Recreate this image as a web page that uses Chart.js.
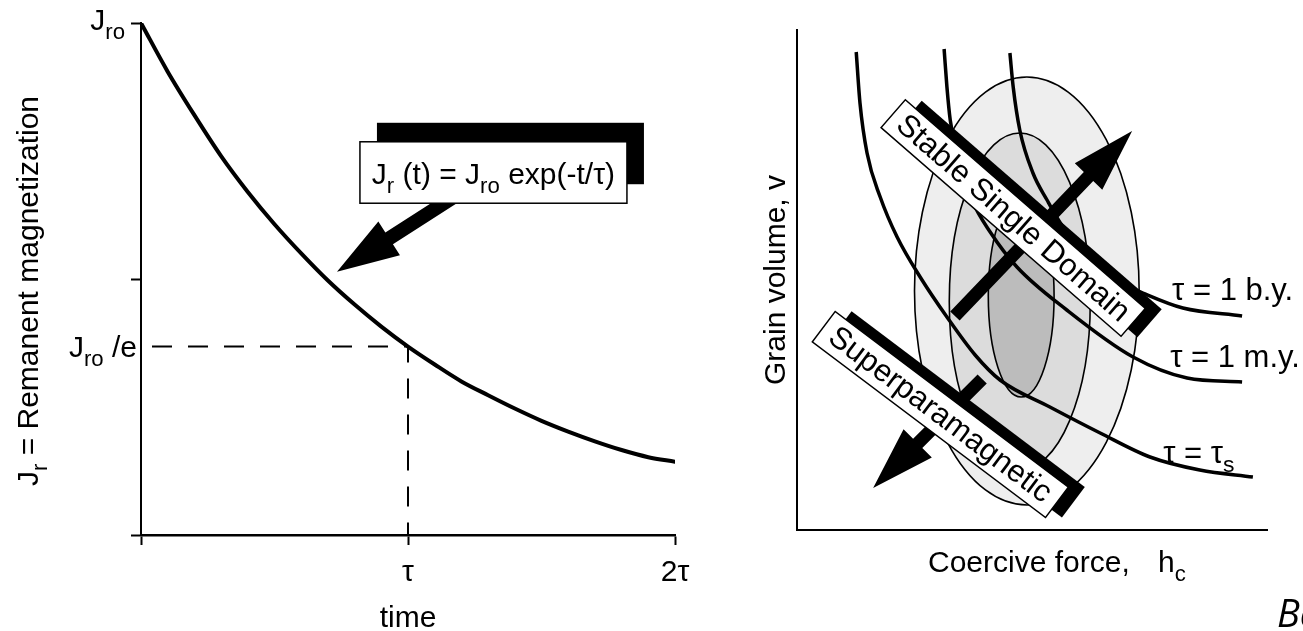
<!DOCTYPE html>
<html>
<head>
<meta charset="utf-8">
<script src="https://cdn.jsdelivr.net/npm/chart.js@4.4.1/dist/chart.umd.min.js"></script>
<style>
  html, body { margin: 0; padding: 0; background: #fff; overflow: hidden; }
  #wrap { position: relative; width: 1303px; height: 631px; }
  #decay { position: absolute; left: 0; top: 0; }
  #stability { position: absolute; left: 720px; top: 0; }
</style>
</head>
<body>
<div id="wrap">
  <canvas id="decay" width="720" height="631"></canvas>
  <canvas id="stability" width="583" height="631"></canvas>
</div>
<script>
// ---- Left panel: decay of remanence with time (time in units of tau, J_r relative to J_ro)
const decayTime       = [0, 0.1, 0.2, 0.3, 0.4, 0.5, 0.6, 0.7, 0.8, 0.9, 1.0, 1.1, 1.2, 1.3, 1.4, 1.5, 1.6, 1.7, 1.8, 1.9, 2.0];
const decayRemanence  = [1.00, 0.905, 0.82, 0.74, 0.67, 0.607, 0.55, 0.497, 0.45, 0.407, 0.368, 0.333, 0.30, 0.273, 0.247, 0.223, 0.202, 0.183, 0.166, 0.152, 0.143];
const remanenceAtTau  = 0.368;          // J_ro / e, reached at t = tau
const timeTicks       = [0, 1, 2];
const timeTickLabels  = ['', 'τ', '2τ'];
const remanenceTicks  = [0, 0.5, 1];

// ---- Right panel: relaxation-time contours in (coercive force, grain volume) space
const contourLabels = ['τ = 1 b.y.', 'τ = 1 m.y.', 'τ = τs'];
const byHc  = [4.53, 4.60, 4.74, 5.02, 5.32, 5.66, 6.23, 6.77, 7.36, 8.21, 9.47];
const byV   = [9.54, 8.86, 8.00, 7.14, 6.60, 6.06, 5.44, 5.00, 4.74, 4.44, 4.28];
const myHc  = [3.13, 3.19, 3.26, 3.43, 3.72, 4.11, 4.68, 5.74, 7.15, 8.30, 9.47];
const myV   = [9.62, 8.86, 8.20, 7.40, 6.60, 5.96, 5.26, 4.40, 3.46, 3.04, 2.96];
const tsHc  = [1.26, 1.34, 1.49, 1.77, 2.13, 2.62, 3.19, 3.79, 4.32, 5.38, 6.45, 7.51, 8.57, 9.70];
const tsV   = [9.56, 8.54, 7.54, 6.66, 5.86, 5.06, 4.26, 3.50, 3.00, 2.46, 1.94, 1.46, 1.20, 1.06];

// grain population zones (nested ellipses), outer to inner
const zoneHc     = [4.89, 4.74, 4.77];
const zoneV      = [4.78, 4.57, 4.68];
const zoneHalfHc = [2.39, 1.50, 0.70];
const zoneHalfV  = [4.28, 3.37, 2.02];

// ---- styling / layout of the annotations
const FONT = '"Liberation Sans", Arial, Helvetica, sans-serif';
const SUB = 0.74;
const TXT = 30;
const TAG_TXT = 31;
const zoneFill = ['#eeeeee', '#dcdcdc', '#bcbcbc'];

const LEFT_NOTE = {
  box: [0.820, 1.820, 0.768, 0.648],      // t from, t to, value top, value bottom
  shadow: [17, -19],
  arrowFrom: [1.176, 0.662],
  arrowTo: [0.734, 0.514]
};
const RIGHT_NOTE = {
  upArrow:   { from: [3.36, 4.28], to: [7.13, 7.98] },
  downArrow: { from: [3.94, 3.02], to: [1.62, 0.84] },
  stableTag: { at: [4.60, 6.24], angle: 41, len: 318, thick: 37, text: 'Stable Single Domain' },
  superTag:  { at: [3.05, 2.31], angle: 37, len: 292, thick: 38, text: 'Superparamagnetic' },
  labelAt:   [[7.98, 4.60], [7.94, 3.26], [7.79, 1.34]]
};

function font(size, style) { return (style ? style + ' ' : '') + size + 'px ' + FONT; }

function richWidth(ctx, parts, size) {
  let w = 0;
  for (const p of parts) { ctx.font = font(p.sub ? size * SUB : size); w += ctx.measureText(p.t).width; }
  return w;
}
function drawRich(ctx, parts, x, y, size, align) {
  const w = richWidth(ctx, parts, size);
  let cx = align === 'center' ? x - w / 2 : (align === 'right' ? x - w : x);
  ctx.textAlign = 'left';
  ctx.textBaseline = 'alphabetic';
  for (const p of parts) {
    ctx.font = font(p.sub ? size * SUB : size);
    ctx.fillText(p.t, cx, y + (p.sub ? size * 0.3 : 0));
    cx += ctx.measureText(p.t).width;
  }
}
function drawArrow(ctx, x0, y0, x1, y1, shaft, headLen, headW) {
  const dx = x1 - x0, dy = y1 - y0, L = Math.hypot(dx, dy);
  const ux = dx / L, uy = dy / L, nx = -uy, ny = ux;
  const bx = x1 - ux * headLen, by = y1 - uy * headLen;
  ctx.beginPath();
  ctx.moveTo(x0 + nx * shaft / 2, y0 + ny * shaft / 2);
  ctx.lineTo(bx + nx * shaft / 2, by + ny * shaft / 2);
  ctx.lineTo(bx + nx * headW / 2, by + ny * headW / 2);
  ctx.lineTo(x1, y1);
  ctx.lineTo(bx - nx * headW / 2, by - ny * headW / 2);
  ctx.lineTo(bx - nx * shaft / 2, by - ny * shaft / 2);
  ctx.lineTo(x0 - nx * shaft / 2, y0 - ny * shaft / 2);
  ctx.closePath();
  ctx.fillStyle = '#000';
  ctx.fill();
}
function drawTag(ctx, cx, cy, tag) {
  ctx.save();
  ctx.translate(cx, cy);
  ctx.rotate(tag.angle * Math.PI / 180);
  const w = tag.len, h = tag.thick;
  ctx.fillStyle = '#000';
  ctx.fillRect(-w / 2 + 13, -h / 2 - 10, w, h);
  ctx.fillStyle = '#fff';
  ctx.fillRect(-w / 2, -h / 2, w, h);
  ctx.strokeStyle = '#000';
  ctx.lineWidth = 1.5;
  ctx.strokeRect(-w / 2, -h / 2, w, h);
  ctx.fillStyle = '#000';
  ctx.font = font(TAG_TXT);
  ctx.textAlign = 'center';
  ctx.textBaseline = 'middle';
  ctx.fillText(tag.text, 0, 1);
  ctx.restore();
}

const blackTicks = { display: true, drawOnChartArea: false, drawTicks: true, tickLength: 10, tickWidth: 2, tickColor: '#000' };

// ---------------- left chart ----------------
const decayDecor = {
  id: 'decayDecor',
  afterDatasetsDraw(chart) {
    const { ctx, scales: { x, y } } = chart;
    const N = LEFT_NOTE;
    ctx.save();
    drawArrow(ctx, x.getPixelForValue(N.arrowFrom[0]), y.getPixelForValue(N.arrowFrom[1]),
              x.getPixelForValue(N.arrowTo[0]), y.getPixelForValue(N.arrowTo[1]), 14, 62, 40);
    const bx0 = x.getPixelForValue(N.box[0]), bx1 = x.getPixelForValue(N.box[1]);
    const by0 = y.getPixelForValue(N.box[2]), by1 = y.getPixelForValue(N.box[3]);
    ctx.fillStyle = '#000';
    ctx.fillRect(bx0 + N.shadow[0], by0 + N.shadow[1], bx1 - bx0, by1 - by0);
    ctx.fillStyle = '#fff';
    ctx.fillRect(bx0, by0, bx1 - bx0, by1 - by0);
    ctx.strokeStyle = '#000';
    ctx.lineWidth = 1.5;
    ctx.strokeRect(bx0, by0, bx1 - bx0, by1 - by0);
    ctx.fillStyle = '#000';
    drawRich(ctx, [{ t: 'J' }, { t: 'r', sub: 1 }, { t: ' (t) = J' }, { t: 'ro', sub: 1 }, { t: ' exp(-t/τ)' }],
             (bx0 + bx1) / 2, (by0 + by1) / 2 + 11, TXT, 'center');

    // value labels
    drawRich(ctx, [{ t: 'J' }, { t: 'ro', sub: 1 }], x.left - 16, y.getPixelForValue(1) + 7, TXT, 'right');
    drawRich(ctx, [{ t: 'J' }, { t: 'ro', sub: 1 }, { t: ' /e' }], x.left - 4, y.getPixelForValue(remanenceAtTau) + 10, TXT, 'right');
    // time tick labels
    ctx.font = font(TXT);
    ctx.textAlign = 'center';
    ctx.textBaseline = 'alphabetic';
    timeTicks.forEach((t, i) => { if (timeTickLabels[i]) ctx.fillText(timeTickLabels[i], x.getPixelForValue(t), y.bottom + 46); });
    ctx.fillText('time', x.getPixelForValue(1), y.bottom + 92);
    // vertical axis title
    ctx.save();
    ctx.translate(38, (y.top + y.bottom) / 2 + 12);
    ctx.rotate(-Math.PI / 2);
    drawRich(ctx, [{ t: 'J' }, { t: 'r', sub: 1 }, { t: ' = Remanent magnetization' }], 0, 0, TXT, 'center');
    ctx.restore();
    ctx.restore();
  }
};

new Chart(document.getElementById('decay'), {
  type: 'line',
  data: {
    datasets: [
      { data: decayTime.map((t, i) => ({ x: t, y: decayRemanence[i] })),
        borderColor: '#000', borderWidth: 4, pointRadius: 0, cubicInterpolationMode: 'monotone', borderCapStyle: 'round' },
      { data: [{ x: 0, y: remanenceAtTau }, { x: 1, y: remanenceAtTau }, { x: 1, y: 0 }],
        borderColor: '#000', borderWidth: 2, borderDash: [20, 16], borderDashOffset: 25, pointRadius: 0, tension: 0 }
    ]
  },
  options: {
    responsive: false, animation: false, events: [],
    layout: { padding: { left: 131, top: 23, right: 45, bottom: 86 } },
    plugins: { legend: { display: false }, tooltip: { enabled: false } },
    scales: {
      x: { type: 'linear', min: 0, max: 2,
           afterBuildTicks: s => { s.ticks = timeTicks.map(v => ({ value: v })); },
           ticks: { display: false }, grid: blackTicks,
           border: { display: true, color: '#000', width: 2.5 } },
      y: { type: 'linear', min: 0, max: 1,
           afterBuildTicks: s => { s.ticks = remanenceTicks.map(v => ({ value: v })); },
           ticks: { display: false }, grid: blackTicks,
           border: { display: true, color: '#000', width: 2 } }
    }
  },
  plugins: [decayDecor]
});

// ---------------- right chart ----------------
const stabilityDecor = {
  id: 'stabilityDecor',
  beforeDatasetsDraw(chart) {
    const { ctx, scales: { x, y } } = chart;
    ctx.save();
    zoneHc.forEach((hc, i) => {
      const cx = x.getPixelForValue(hc), cy = y.getPixelForValue(zoneV[i]);
      const rx = Math.abs(x.getPixelForValue(hc + zoneHalfHc[i]) - cx);
      const ry = Math.abs(y.getPixelForValue(zoneV[i] + zoneHalfV[i]) - cy);
      ctx.beginPath();
      ctx.ellipse(cx, cy, rx, ry, 0, 0, Math.PI * 2);
      ctx.fillStyle = zoneFill[i];
      ctx.fill();
      ctx.lineWidth = 1.6;
      ctx.strokeStyle = '#000';
      ctx.stroke();
    });
    ctx.restore();
  },
  afterDatasetsDraw(chart) {
    const { ctx, scales: { x, y } } = chart;
    const N = RIGHT_NOTE;
    const px = v => x.getPixelForValue(v), py = v => y.getPixelForValue(v);
    ctx.save();
    drawArrow(ctx, px(N.upArrow.from[0]), py(N.upArrow.from[1]), px(N.upArrow.to[0]), py(N.upArrow.to[1]), 13, 63, 38);
    drawArrow(ctx, px(N.downArrow.from[0]), py(N.downArrow.from[1]), px(N.downArrow.to[0]), py(N.downArrow.to[1]), 13, 63, 40);
    drawTag(ctx, px(N.stableTag.at[0]), py(N.stableTag.at[1]), N.stableTag);
    drawTag(ctx, px(N.superTag.at[0]), py(N.superTag.at[1]), N.superTag);

    ctx.fillStyle = '#000';
    drawRich(ctx, [{ t: contourLabels[0] }], px(N.labelAt[0][0]), py(N.labelAt[0][1]), TAG_TXT, 'left');
    drawRich(ctx, [{ t: contourLabels[1] }], px(N.labelAt[1][0]), py(N.labelAt[1][1]), TAG_TXT, 'left');
    drawRich(ctx, [{ t: 'τ = τ' }, { t: 's', sub: 1 }], px(N.labelAt[2][0]), py(N.labelAt[2][1]), TAG_TXT, 'left');

    // axis titles
    drawRich(ctx, [{ t: 'Coercive force,' }], x.left + 131, y.bottom + 42, TXT, 'left');
    drawRich(ctx, [{ t: 'h' }, { t: 'c', sub: 1 }], x.left + 361, y.bottom + 42, TXT, 'left');
    ctx.save();
    ctx.translate(x.left - 12, (y.top + y.bottom) / 2);
    ctx.rotate(-Math.PI / 2);
    drawRich(ctx, [{ t: 'Grain volume, v' }], 0, 0, TXT, 'center');
    ctx.restore();

    ctx.font = 'italic 38px "Open Sans", "DejaVu Sans", sans-serif';
    ctx.textAlign = 'left';
    ctx.textBaseline = 'alphabetic';
    ctx.fillText('Ba', 557, 627);
    ctx.restore();
  }
};

const contour = (hc, v) => ({
  data: hc.map((h, i) => ({ x: h, y: v[i] })),
  borderColor: '#000', borderWidth: 3.5, pointRadius: 0, cubicInterpolationMode: 'monotone'
});

new Chart(document.getElementById('stability'), {
  type: 'line',
  data: { datasets: [contour(byHc, byV), contour(myHc, myV), contour(tsHc, tsV)] },
  options: {
    responsive: false, animation: false, events: [],
    layout: { padding: { left: 77, top: 30, right: 36, bottom: 101 } },
    plugins: { legend: { display: false }, tooltip: { enabled: false } },
    scales: {
      x: { type: 'linear', min: 0, max: 10, ticks: { display: false },
           grid: { display: false, drawTicks: false, tickLength: 0 },
           border: { display: true, color: '#000', width: 2 } },
      y: { type: 'linear', min: 0, max: 10, ticks: { display: false },
           grid: { display: false, drawTicks: false, tickLength: 0 },
           border: { display: true, color: '#000', width: 2 } }
    }
  },
  plugins: [stabilityDecor]
});
</script>
</body>
</html>
